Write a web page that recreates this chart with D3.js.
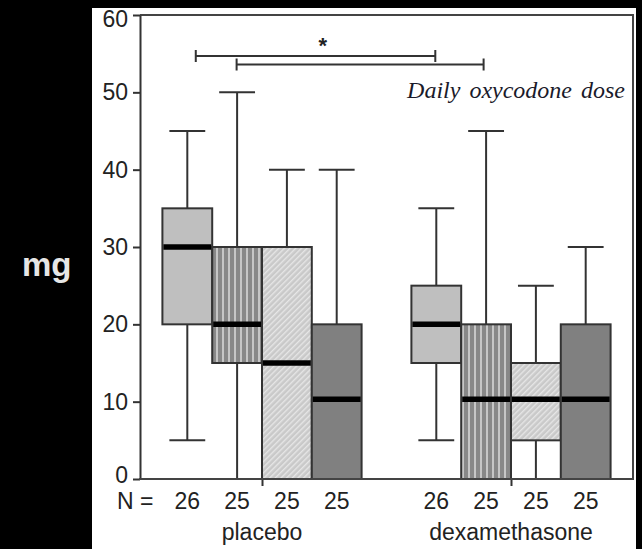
<!DOCTYPE html>
<html>
<head>
<meta charset="utf-8">
<script src="https://cdn.jsdelivr.net/npm/d3@7"></script>
<style>
  body { margin: 0; background: #000; }
  svg { display: block; }
</style>
</head>
<body>
<div id="chart"></div>
<script>
// data (mg/day)
var groups = ["placebo", "dexamethasone"];
var slots = ["p1", "p2", "p3", "p4", "gap", "d1", "d2", "d3", "d4"];
var boxSlots = ["p1", "p2", "p3", "p4", "d1", "d2", "d3", "d4"];
var boxN = [26, 25, 25, 25, 26, 25, 25, 25];
var whiskerHigh = [45, 50, 40, 40, 35, 45, 25, 30];
var q3 = [35, 30, 30, 20, 25, 20, 15, 20];
var median = [30, 20, 15, 10.3, 20, 10.3, 10.3, 10.3];
var q1 = [20, 15, 0, 0, 15, 0, 5, 0];
var whiskerLow = [5, 0, 0, 0, 5, 0, 0, 0];
var yTicks = [0, 10, 20, 30, 40, 50, 60];
// significance brackets, x in slot units from the first box centre
var brackets = [{x1: 0.17, x2: 4.98, y: 54.7}, {x1: 0.99, x2: 5.95, y: 53.6}];
var star = {x: 2.72, y: 56.6, label: "*"};

var W = 642, H = 549;
var svg = d3.select("#chart").append("svg")
    .attr("width", W).attr("height", H);

// white panel
svg.append("rect").attr("x", 92).attr("y", 8).attr("width", 544).attr("height", H - 8)
    .attr("fill", "#fff");

var defs = svg.append("defs");
var vs = defs.append("pattern").attr("id", "vstripe").attr("patternUnits", "userSpaceOnUse")
    .attr("width", 6).attr("height", 10);
vs.append("rect").attr("width", 6).attr("height", 10).attr("fill", "#888");
vs.append("rect").attr("width", 2).attr("height", 10).attr("fill", "#c6c6c6");

var hs = defs.append("pattern").attr("id", "hatch").attr("patternUnits", "userSpaceOnUse")
    .attr("width", 4).attr("height", 4).attr("patternTransform", "rotate(45)");
hs.append("rect").attr("width", 4).attr("height", 4).attr("fill", "#c9c9c9");
hs.append("rect").attr("width", 1.4).attr("height", 4).attr("fill", "#e6e6e6");

var fills = ["#bfbfbf", "url(#vstripe)", "url(#hatch)", "#808080"];

var x = d3.scaleBand().domain(slots).range([140, 633]).paddingInner(0).paddingOuter(0.45);
var y = d3.scaleLinear().domain([0, 60]).range([479, 15]);
var bw = x.bandwidth();
var xs = d3.scaleLinear().domain([0, 1]).range([x("p1") + bw / 2, x("p2") + bw / 2]);

var boxes = boxSlots.map(function(s, i) {
    return {slot: s, n: boxN[i], hi: whiskerHigh[i], q3: q3[i], med: median[i],
            q1: q1[i], lo: whiskerLow[i], fill: fills[i % 4]};
});

var ink = "#333";
var g = svg.append("g");

// whiskers
boxes.forEach(function(d) {
    var cx = x(d.slot) + bw / 2;
    g.append("line").attr("x1", cx).attr("x2", cx).attr("y1", y(d.q3)).attr("y2", y(d.hi))
        .attr("stroke", ink).attr("stroke-width", 2);
    g.append("line").attr("x1", cx - bw * 0.36).attr("x2", cx + bw * 0.36)
        .attr("y1", y(d.hi)).attr("y2", y(d.hi)).attr("stroke", ink).attr("stroke-width", 2);
    if (d.q1 > d.lo) {
        g.append("line").attr("x1", cx).attr("x2", cx).attr("y1", y(d.q1)).attr("y2", y(d.lo))
            .attr("stroke", ink).attr("stroke-width", 2);
        if (d.lo > 0)
            g.append("line").attr("x1", cx - bw * 0.36).attr("x2", cx + bw * 0.36)
                .attr("y1", y(d.lo)).attr("y2", y(d.lo)).attr("stroke", ink).attr("stroke-width", 2);
    }
});

// boxes
g.selectAll(".box").data(boxes).enter().append("rect")
    .attr("class", "box")
    .attr("x", function(d) { return x(d.slot); })
    .attr("y", function(d) { return y(d.q3); })
    .attr("width", bw)
    .attr("height", function(d) { return y(d.q1) - y(d.q3); })
    .attr("fill", function(d) { return d.fill; })
    .attr("stroke", ink).attr("stroke-width", 2);

g.selectAll(".med").data(boxes).enter().append("line")
    .attr("x1", function(d) { return x(d.slot) + 1; })
    .attr("x2", function(d) { return x(d.slot) + bw - 1; })
    .attr("y1", function(d) { return y(d.med); })
    .attr("y2", function(d) { return y(d.med); })
    .attr("stroke", "#000").attr("stroke-width", 5.5);

// frame
svg.append("path").attr("d", "M140,15H633V479")
    .attr("fill", "none").attr("stroke", "#444").attr("stroke-width", 2);

var font = "'Liberation Sans', Arial, sans-serif";

var yAxis = svg.append("g").attr("transform", "translate(140,0)")
    .call(d3.axisLeft(y).tickValues(yTicks).tickSize(7).tickPadding(5).tickSizeOuter(0));
yAxis.selectAll("path, line").attr("stroke", "#333").attr("stroke-width", 2);
yAxis.selectAll("text").attr("font-family", font).attr("font-size", 23).attr("fill", "#222")
    .attr("dy", function(d) { return d === 0 ? "0.15em" : d === 60 ? "0.5em" : "0.33em"; });

// group ticks sit between the middle boxes
var xg = d3.scaleOrdinal().domain(groups).range([x("p3"), x("d3")]);
var xAxis = svg.append("g").attr("transform", "translate(0,479)")
    .call(d3.axisBottom(xg).tickSize(7).tickFormat(""));
xAxis.select(".domain").remove();
xAxis.selectAll("line").attr("stroke", "#333").attr("stroke-width", 2);
svg.append("line").attr("x1", 139).attr("x2", 634).attr("y1", 479).attr("y2", 479)
    .attr("stroke", "#444").attr("stroke-width", 2);

// N row and group names
svg.append("text").attr("x", 117).attr("y", 509).text("N =")
    .attr("font-family", font).attr("font-size", 23).attr("fill", "#222");
svg.selectAll(".n").data(boxes).enter().append("text")
    .attr("x", function(d) { return x(d.slot) + bw / 2; })
    .attr("y", 509).attr("text-anchor", "middle")
    .attr("font-family", font).attr("font-size", 23).attr("fill", "#222")
    .text(function(d) { return d.n; });
svg.selectAll(".grp").data(groups).enter().append("text")
    .attr("x", function(d) { return xg(d); })
    .attr("y", 540).attr("text-anchor", "middle")
    .attr("font-family", font).attr("font-size", 23).attr("fill", "#222")
    .text(function(d) { return d; });

// brackets
brackets.forEach(function(b) {
    var yy = y(b.y);
    svg.append("path")
        .attr("d", "M" + xs(b.x1) + "," + (yy - 6) + "V" + (yy + 6) + "M" + xs(b.x1) + "," + yy +
                   "H" + xs(b.x2) + "M" + xs(b.x2) + "," + (yy - 6) + "V" + (yy + 6))
        .attr("fill", "none").attr("stroke", "#333").attr("stroke-width", 2);
});
svg.append("text").attr("x", xs(star.x)).attr("y", y(star.y) + 12)
    .attr("text-anchor", "middle").attr("font-family", font).attr("font-weight", "bold")
    .attr("font-size", 22).attr("fill", "#222").text(star.label);

svg.append("text").attr("x", 625).attr("y", 98).attr("text-anchor", "end")
    .attr("font-family", "'Liberation Serif', 'Times New Roman', serif")
    .attr("font-style", "italic").attr("font-size", 24).attr("fill", "#1a1a2a")
    .attr("word-spacing", 3)
    .text("Daily oxycodone dose");

svg.append("text").attr("x", 22).attr("y", 276)
    .attr("font-family", font).attr("font-weight", "bold").attr("font-size", 33)
    .attr("fill", "#e6e6e6").text("mg");
</script>
</body>
</html>
